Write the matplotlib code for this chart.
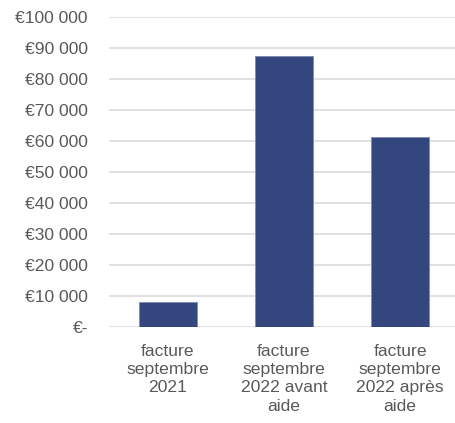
import matplotlib
matplotlib.use("Agg")
import matplotlib.pyplot as plt

categories = ["facture\nseptembre\n2021", "facture\nseptembre\n2022 avant\naide", "facture\nseptembre\n2022 après\naide"]
values = [8200, 87400, 61300]
yticks = [0, 10000, 20000, 30000, 40000, 50000, 60000, 70000, 80000, 90000, 100000]

def fmt(v):
    if v == 0:
        return "€-"
    return "€" + f"{v:,}".replace(",", " ")

plt.rcParams['font.family'] = ['Liberation Sans', 'DejaVu Sans']

fig = plt.figure(figsize=(4.56, 4.23), dpi=100)
ax = fig.add_axes([0.24, 0.2258, 0.765, 0.7340])

x = list(range(len(categories)))
ax.bar(x, values, width=0.5, color="#34467E", edgecolor="#7F8AAE", linewidth=0.6, zorder=3)

ax.set_xlim(-0.5, 2.5)
ax.set_ylim(0, 100000)
ax.set_yticks(yticks)
ax.set_yticklabels([fmt(v) for v in yticks])
ax.set_xticks(x)
ax.set_xticklabels(categories, linespacing=1.26)
ax.yaxis.grid(True, color="#D9D9D9", linewidth=1.1, zorder=0)
ax.set_axisbelow(True)
for s in ax.spines.values():
    s.set_visible(False)
ax.tick_params(axis='both', length=0, labelsize=12.6, colors="#595959")
ax.tick_params(axis='y', pad=15.5)
ax.tick_params(axis='x', pad=12)

fig.savefig("out.png", dpi=100)
